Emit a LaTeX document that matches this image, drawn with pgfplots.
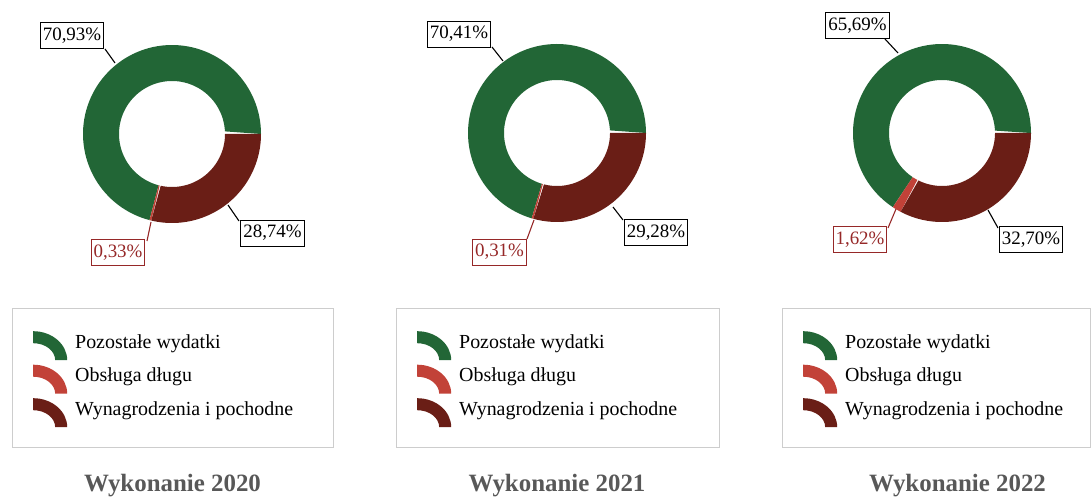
\documentclass[border=0pt]{standalone}
\usepackage{pgfplots}
\pgfplotsset{compat=1.18}
\usepackage{fontspec}
\setmainfont{Liberation Serif}
\definecolor{cgreen}{RGB}{34,102,54}
\definecolor{cred}{RGB}{194,66,56}
\definecolor{cbrown}{RGB}{106,30,22}
\definecolor{clab}{RGB}{150,40,40}
\definecolor{ctitle}{RGB}{88,88,88}
\definecolor{cbox}{RGB}{205,205,205}

% one ring sector: colour, start (percent, clockwise from 3 o'clock), end (percent)
\newcommand{\ringslice}[3]{%
 \addplot[fill=#1, draw=none, domain=0:2, samples=181, variable=\t]
 ({ifthenelse(\t<1, 89*cos(-3.6*((#2)+((#3)-(#2))*\t)), 53*cos(-3.6*((#3)+((#2)-(#3))*(\t-1))))},
  {ifthenelse(\t<1, 89*sin(-3.6*((#2)+((#3)-(#2))*\t)), 53*sin(-3.6*((#3)+((#2)-(#3))*(\t-1))))});
}
% donut: Wynagrodzenia, Obsluga, Pozostale (percent)
\newcommand{\donut}[3]{%
 \ringslice{cgreen}{#1+#2}{#1+#2+#3}
 \addlegendentry{Pozostałe wydatki}
 \ringslice{cred}{#1}{#1+#2}
 \addlegendentry{Obsługa długu}
 \ringslice{cbrown}{0}{#1}
 \addlegendentry{Wynagrodzenia i pochodne}
}

\pgfplotsset{
 donut/.style={hide axis, x=1bp, y=1bp, xmin=-140, xmax=140, ymin=-340, ymax=125,
   anchor=south west, clip=false,
   legend cell align=left,
   legend image code/.code={\fill[##1] (0bp,12.5bp) arc[start angle=90,end angle=0,x radius=34bp,y radius=29bp]
      -- (22bp,-16.5bp) arc[start angle=0,end angle=90,x radius=22bp,y radius=17bp] -- cycle;},
   legend style={anchor=north west, draw=none, fill=none, inner sep=0pt,
      row sep=4.5bp, column sep=8bp, font=\fontsize{20}{24}\selectfont,
      nodes={inner sep=0pt, text height=14bp, text depth=5bp}},
 },
}
\tikzset{
 lab/.style={draw=black, line width=1bp, fill=white, inner xsep=2.5bp, inner ysep=0pt,
   minimum height=26bp, text height=13bp, text depth=4bp, font=\fontsize{19}{22}\selectfont},
 labred/.style={lab, draw=clab, text=clab},
 lead/.style={line width=1.1bp, black},
 leadred/.style={line width=1.1bp, clab},
 ttl/.style={anchor=base, text=ctitle, font=\bfseries\fontsize{25}{30}\selectfont},
 lbox/.style={draw=cbox, line width=0.8bp},
}

\begin{document}
\begin{tikzpicture}[x=1bp,y=1bp]
\path (0,0) rectangle (1091,495);

% ---------- 2020 ----------
\begin{axis}[donut, at={(172-140,361-340)}, legend style={at={(axis cs:-139,-197)}}]
\donut{28.74}{0.33}{70.93}
\draw[lead] (axis cs:-67,85) -- (axis cs:-57,71);
\draw[lead] (axis cs:56,-71) -- (axis cs:67,-87);
\draw[leadred] (axis cs:-25,-107) -- (axis cs:-21,-88);
\node[lab] at (axis cs:-100,98) {70,93\%};
\node[lab] at (axis cs:100.5,-99.5) {28,74\%};
\node[labred] at (axis cs:-54,-119) {0,33\%};
\draw[lbox] (axis cs:-160,-174) rectangle (axis cs:161,-313);
\node[ttl] at (axis cs:0.5,-358) {Wykonanie 2020};
\end{axis}

% ---------- 2021 ----------
\begin{axis}[donut, at={(557-140,362-340)}, legend style={at={(axis cs:-140,-198)}}]
\donut{29.28}{0.31}{70.41}
\draw[lead] (axis cs:-65,86) -- (axis cs:-54,72);
\draw[lead] (axis cs:56,-74) -- (axis cs:66,-87);
\draw[leadred] (axis cs:-30,-106) -- (axis cs:-23,-87);
\node[lab] at (axis cs:-98,98.5) {70,41\%};
\node[lab] at (axis cs:99,-100) {29,28\%};
\node[labred] at (axis cs:-57.5,-119.5) {0,31\%};
\draw[lbox] (axis cs:-161,-175) rectangle (axis cs:162,-314);
\node[ttl] at (axis cs:0,-359) {Wykonanie 2021};
\end{axis}

% ---------- 2022 ----------
\begin{axis}[donut, at={(942-140,362-340)}, legend style={at={(axis cs:-139,-198)}}]
\donut{32.70}{1.62}{65.69}
\draw[lead] (axis cs:-57,94) -- (axis cs:-44,80);
\draw[lead] (axis cs:46,-77) -- (axis cs:56,-95);
\draw[leadred] (axis cs:-54,-95) -- (axis cs:-46,-76);
\node[lab] at (axis cs:-84.5,107) {65,69\%};
\node[lab] at (axis cs:89,-107) {32,70\%};
\node[labred] at (axis cs:-82,-107) {1,62\%};
\draw[lbox] (axis cs:-160,-175) rectangle (axis cs:148,-314);
\node[ttl] at (axis cs:15.5,-359) {Wykonanie 2022};
\end{axis}
\end{tikzpicture}
\end{document}
